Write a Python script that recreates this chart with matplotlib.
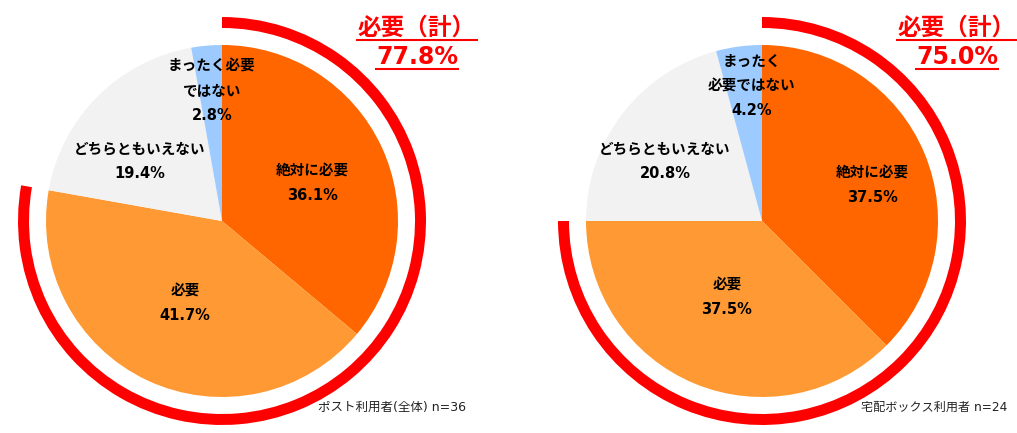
import matplotlib
matplotlib.use("Agg")
import matplotlib.pyplot as plt
from matplotlib.patches import Wedge

plt.rcParams['font.family'] = ['DejaVu Sans', 'Noto Sans CJK JP']

# ---- data ----
categories = ["絶対に必要", "必要", "どちらともいえない", "まったく必要ではない"]
post_values = [36.1, 41.7, 19.4, 2.8]
box_values = [37.5, 37.5, 20.8, 4.2]
post_labels = ["絶対に必要", "必要", "どちらともいえない", "まったく必要\nではない"]
box_labels = ["絶対に必要", "必要", "どちらともいえない", "まったく\n必要ではない"]
post_total = 77.8
box_total = 75.0
post_note = "ポスト利用者(全体) n=36"
box_note = "宅配ボックス利用者 n=24"
total_title = "必要（計）"

colors = ["#FF6600", "#FF9933", "#F2F2F2", "#9DCBFF"]

W, H = 1017, 433
fig = plt.figure(figsize=(W / 100, H / 100), dpi=100)
ax = fig.add_axes([0, 0, 1, 1])


def Y(y):
    return H - y


panels = [
    dict(values=post_values, labels=post_labels, total=post_total, note=post_note,
         center=(222, 221), label_pos=[(312, 183), (185, 303), (140, 161), (212, 91)],
         title_x=417, note_right=466, note_size=9.0),
    dict(values=box_values, labels=box_labels, total=box_total, note=box_note,
         center=(762, 221), label_pos=[(872, 185), (727, 297), (665, 161), (752, 86)],
         title_x=957, note_right=1007, note_size=8.7),
]

R = 176
arc_outer = 204
arc_width = 11

underline_texts = []
for p in panels:
    cx, cy = p["center"]
    ax.pie(p["values"], colors=colors, startangle=90, counterclock=False,
           center=(cx, Y(cy)), radius=R, wedgeprops=dict(linewidth=0))
    # red arc covering the "必要（計）" share
    share = (p["values"][0] + p["values"][1]) / sum(p["values"])
    ax.add_patch(Wedge((cx, Y(cy)), arc_outer, 90 - 360 * share, 90,
                       width=arc_width, facecolor="#FF0000", edgecolor="none"))
    for lab, val, (lx, ly) in zip(p["labels"], p["values"], p["label_pos"]):
        ax.text(lx, Y(ly), f"{lab}\n{val:.1f}%", ha="center", va="center",
                fontsize=10.5, fontweight="bold", color="#000000", linespacing=1.8)
    t1 = ax.text(p["title_x"], Y(28), total_title, ha="center", va="center",
                 fontsize=17, fontweight="bold", color="#FF0000")
    t2 = ax.text(p["title_x"], Y(57), f"{p['total']:.1f}%", ha="center", va="center",
                 fontsize=17, fontweight="bold", color="#FF0000")
    underline_texts.append((t1, Y(40), 2))
    underline_texts.append((t2, Y(69), 1))
    ax.text(p["note_right"], Y(407), p["note"], ha="right", va="center",
            fontsize=p["note_size"], color="#222222")

ax.set_xlim(0, W)
ax.set_ylim(0, H)
ax.set_aspect("equal")
ax.axis("off")

fig.canvas.draw()
renderer = fig.canvas.get_renderer()
inv = ax.transData.inverted()
for t, yline, pad in underline_texts:
    bb = t.get_window_extent(renderer)
    x0, _ = inv.transform((bb.x0, bb.y0))
    x1, _ = inv.transform((bb.x1, bb.y0))
    ax.plot([x0 - pad, x1 + pad], [yline, yline], color="#FF0000", lw=1.5,
            solid_capstyle="butt")

fig.savefig("out.png", dpi=100)
